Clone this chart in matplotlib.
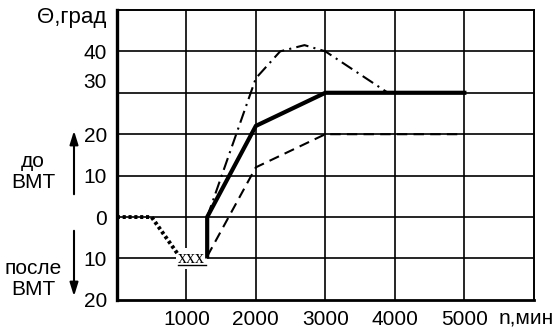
import matplotlib.pyplot as plt

plt.rcParams['font.family'] = ['Liberation Sans', 'DejaVu Sans']

# crankshaft speed, rpm
dotted_x = [0, 500, 880]
dotted_y = [0, 0, -9]
solid_x = [1300, 1300, 2000, 3000, 5000]
solid_y = [-9.5, 0, 22, 30, 30]
dashed_x = [1300, 2000, 3000, 5000]
dashed_y = [-9.5, 12, 20, 20]
dashdot_x = [1300, 2000, 2350, 2700, 3000, 3900]
dashdot_y = [0, 33.5, 40, 41.5, 40, 30]

knock_x = [880, 1280]
knock_y = [-11.6, -11.6]

x_ticks = [1000, 2000, 3000, 4000, 5000]
x_labels = ['1000', '2000', '3000', '4000', '5000']
y_ticks = [-20, -10, 0, 10, 20, 33, 40]
y_labels = ['20', '10', '0', '10', '20', '30', '40']
grid_y = [-10, 0, 10, 20, 30, 40]

fig = plt.figure(figsize=(5.59, 3.31), dpi=100)
ax = fig.add_axes([0.209, 0.094, 0.746, 0.876])
ax.set_xlim(0, 6000)
ax.set_ylim(-20, 50)

for gx in x_ticks:
    ax.axvline(gx, color='black', lw=1.2, zorder=1)
for gy in grid_y:
    ax.axhline(gy, color='black', lw=1.2, zorder=1)

ax.plot(dotted_x, dotted_y, color='black', lw=2.8, ls=(0, (0.8, 0.7)),
        dash_capstyle='butt', zorder=3)
ax.plot(solid_x, solid_y, color='black', lw=3.0, solid_joinstyle='miter', zorder=3)
ax.plot(dashed_x, dashed_y, color='black', lw=1.5, ls=(0, (5, 3)), zorder=3)
ax.plot(dashdot_x, dashdot_y, color='black', lw=1.5, ls=(0, (6, 2.5, 1, 2.5)), zorder=3)

ax.text(1075, -10, 'xxx', family='Liberation Serif', fontsize=13, ha='center',
        va='center', zorder=2,
        bbox=dict(facecolor='white', edgecolor='none', pad=1.5))
ax.plot(knock_x, knock_y, color='black', lw=1.0, zorder=3)

ax.set_xticks(x_ticks)
ax.set_xticklabels(x_labels, fontsize=15)
ax.set_yticks(y_ticks)
ax.set_yticklabels(y_labels, fontsize=15)
ax.tick_params(length=0, pad=7)

for side in ['top', 'right']:
    ax.spines[side].set_linewidth(1.4)
ax.spines['left'].set_linewidth(2.4)
ax.spines['bottom'].set_linewidth(2.0)

fig.text(72 / 559, 1 - 17 / 331, 'Θ,град', fontsize=16, ha='center', va='center')
fig.text(526 / 559, 1 - 318 / 331, 'n,мин', fontsize=15, ha='center', va='center')
fig.text(33 / 559, 1 - 172 / 331, 'до\nВМТ', fontsize=15, ha='center', va='center',
         linespacing=1.15)
fig.text(33 / 559, 1 - 279 / 331, 'после\nВМТ', fontsize=15, ha='center', va='center',
         linespacing=1.15)

arrow = dict(arrowstyle='-|>,head_length=0.8,head_width=0.25', color='black', lw=1.5)
ax.annotate('', xy=(74, 331 - 128), xytext=(74, 331 - 197),
            xycoords='figure pixels', textcoords='figure pixels', arrowprops=arrow,
            annotation_clip=False)
ax.annotate('', xy=(74, 331 - 299), xytext=(74, 331 - 228),
            xycoords='figure pixels', textcoords='figure pixels', arrowprops=arrow,
            annotation_clip=False)

fig.savefig('out.png', dpi=100)
